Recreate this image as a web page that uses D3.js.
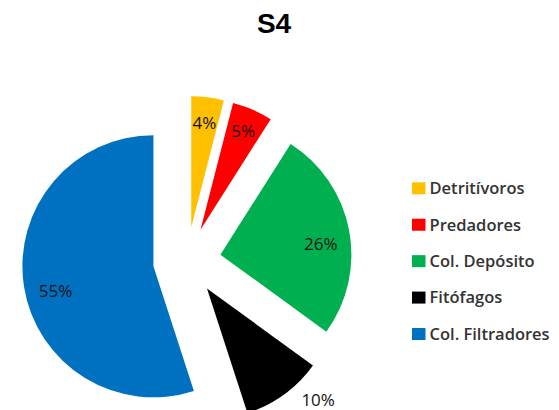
<!DOCTYPE html>
<html lang="es">
  <head>
    <meta charset="UTF-8"/>
    <title>S4</title>
    <script src="https://d3js.org/d3.v7.min.js"></script>
    <style>
      body { margin: 0; background: #fff; }
      text { font-family: 'Open Sans', sans-serif; }
      .title { font-family: 'Liberation Sans', sans-serif; font-size: 28px; font-weight: bold; fill: #000; }
      .slice-label { font-size: 17px; fill: #111; }
      .legend text { font-size: 16.5px; font-weight: 600; fill: #333; }
    </style>
  </head>
  <body>
    <script type="text/javascript">

        const categories = ["Detritívoros", "Predadores", "Col. Depósito", "Fitófagos", "Col. Filtradores"]
        const values = [4, 5, 26, 10, 55]
        const colors = ["#FFC000", "#FF0000", "#00B050", "#000000", "#0070C0"]
        const labels = ["4%", "5%", "26%", "10%", "55%"]
        // label distance from the slice tip, as a share of the radius
        const labelRadius = [0.8, 0.82, 0.77, 1.2, 0.77]
        const labelAngleShift = [0, 0, 5, -9, -5]

        const outerWidth = 559,
              outerHeight = 410,
              cx = 187,
              cy = 261,
              radius = 131,
              explode = 34

        const svg = d3.select("body").append("svg")
            .attr("width", outerWidth)
            .attr("height", outerHeight)

        svg.append("text")
            .attr("class", "title")
            .attr("x", 274)
            .attr("y", 33)
            .attr("text-anchor", "middle")
            .text("S4")

        const data = categories.map((c, i) => ({ name: c, value: values[i], color: colors[i], label: labels[i], i }))

        const pie = d3.pie().sort(null).value(d => d.value)
        const arcs = pie(data)

        const arc = d3.arc().innerRadius(0).outerRadius(radius)

        const offset = a => {
            const mid = (a.startAngle + a.endAngle) / 2
            return [Math.sin(mid) * explode, -Math.cos(mid) * explode]
        }

        const g = svg.append("g")
            .attr("transform", `translate(${cx},${cy})`)

        const slices = g.selectAll("g.slice")
            .data(arcs)
            .join("g")
            .attr("class", "slice")
            .attr("transform", d => `translate(${offset(d)})`)

        slices.append("path")
            .attr("d", arc)
            .attr("fill", d => d.data.color)

        slices.append("text")
            .attr("class", "slice-label")
            .attr("text-anchor", "middle")
            .attr("dy", "0.35em")
            .attr("transform", d => {
                const mid = (d.startAngle + d.endAngle) / 2 + labelAngleShift[d.data.i] * Math.PI / 180
                const r = radius * labelRadius[d.data.i]
                return `translate(${Math.sin(mid) * r},${-Math.cos(mid) * r})`
            })
            .text(d => d.data.label)

        // legend
        const legend = svg.append("g")
            .attr("class", "legend")
            .attr("transform", "translate(412,188.3)")

        const rowY = d3.scalePoint()
            .domain(categories)
            .range([0, 145.7])

        const rows = legend.selectAll("g")
            .data(data)
            .join("g")
            .attr("transform", d => `translate(0,${rowY(d.name)})`)

        rows.append("rect")
            .attr("x", 0)
            .attr("y", -6)
            .attr("width", 13.5)
            .attr("height", 12)
            .attr("fill", d => d.color)

        rows.append("text")
            .attr("x", 17.5)
            .attr("dy", "0.35em")
            .text(d => d.name)

    </script>
  </body>
</html>
